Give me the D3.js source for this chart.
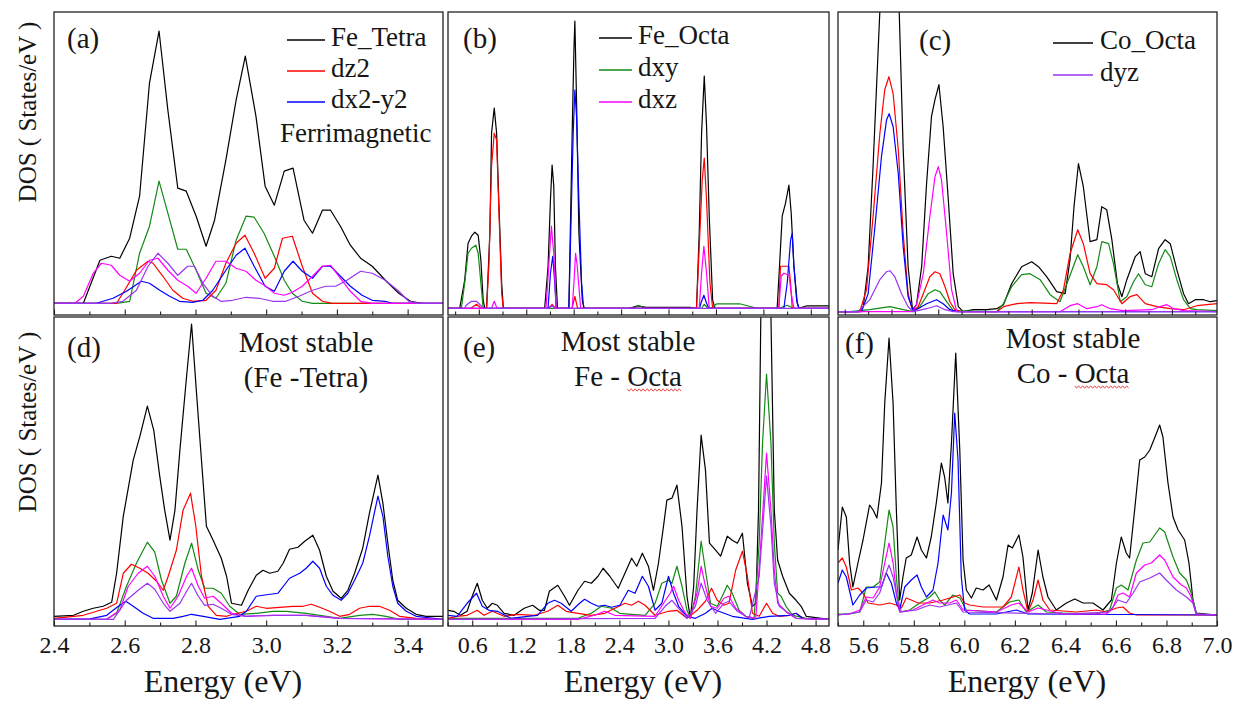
<!DOCTYPE html>
<html>
<head>
<meta charset="utf-8">
<script src="https://cdn.jsdelivr.net/npm/d3@7/dist/d3.min.js"></script>
<style>
  body { margin: 0; background: #fff; }
  svg { display: block; }
  text { font-family: "Liberation Serif", "Times New Roman", serif; fill: #161616; }
</style>
</head>
<body>
<div id="chart"></div>
<script>
// ---- data: [energy (eV), DOS] ----

// (a) ferrimagnetic, Fe tetra
const aBlack = [[2.40,0],[2.483,0],[2.530,4.3],[2.562,4.7],[2.586,4.5],[2.614,6.5],[2.642,10.7],[2.670,22.0],[2.697,27.2],[2.722,19.3],[2.750,11.5],[2.774,11.2],[2.802,8.7],[2.830,5.7],[2.854,8.3],[2.886,14.3],[2.915,20.3],[2.941,24.7],[2.971,18.7],[2.997,11.7],[3.023,9.8],[3.051,13.2],[3.076,13.5],[3.107,8.3],[3.131,7.0],[3.159,9.3],[3.182,9.3],[3.210,7.7],[3.238,5.8],[3.267,4.5],[3.300,3.7],[3.337,2.3],[3.375,1.0],[3.408,0.2],[3.440,0]];
const aGreen = [[2.40,0],[2.577,0],[2.614,0.2],[2.642,5.0],[2.670,7.7],[2.697,12.2],[2.722,9.0],[2.750,5.4],[2.774,5.4],[2.802,3.3],[2.830,1.0],[2.858,0.5],[2.886,2.0],[2.915,6.3],[2.943,8.7],[2.966,8.6],[2.994,7.0],[3.023,4.7],[3.051,2.3],[3.074,1.0],[3.102,0.2],[3.131,0],[3.5,0]];
const aRed = [[2.40,0],[2.577,0],[2.600,1.3],[2.633,3.3],[2.666,4.2],[2.680,4.0],[2.708,2.7],[2.736,1.3],[2.764,0.5],[2.792,0.2],[2.830,0.3],[2.858,1.3],[2.886,4.0],[2.915,6.0],[2.940,6.8],[2.966,5.0],[2.997,2.5],[3.023,3.5],[3.046,6.5],[3.074,6.7],[3.102,3.7],[3.131,1.0],[3.159,0.2],[3.187,0],[3.5,0]];
const aBlue = [[2.40,0],[2.520,0],[2.567,0.5],[2.605,1.2],[2.647,2.2],[2.670,2.0],[2.699,1.3],[2.727,0.7],[2.755,0.2],[2.792,0.1],[2.821,0.3],[2.849,1.3],[2.886,3.3],[2.915,4.8],[2.940,5.5],[2.966,3.7],[2.997,1.7],[3.023,1.2],[3.051,3.2],[3.076,4.2],[3.102,3.2],[3.131,2.5],[3.159,3.7],[3.182,3.7],[3.210,2.7],[3.238,1.7],[3.271,0.8],[3.300,0.3],[3.337,0.2],[3.356,0],[3.5,0]];
const aMagenta = [[2.40,0],[2.459,0],[2.483,0.7],[2.511,3.0],[2.534,4.0],[2.562,3.8],[2.586,2.8],[2.614,2.2],[2.642,3.0],[2.670,4.3],[2.694,4.5],[2.722,3.3],[2.750,2.3],[2.778,1.7],[2.802,1.0],[2.830,2.5],[2.858,4.2],[2.886,4.2],[2.915,3.5],[2.943,3.2],[2.971,2.3],[2.999,1.7],[3.023,1.0],[3.051,0.8],[3.074,1.1],[3.102,1.7],[3.131,2.7],[3.159,3.7],[3.182,3.8],[3.210,2.5],[3.238,1.2],[3.267,0.2],[3.300,0],[3.5,0]];
const aPurple = [[2.40,0],[2.560,0],[2.595,0.2],[2.633,1.3],[2.666,3.7],[2.694,5.0],[2.722,4.0],[2.750,2.8],[2.778,3.7],[2.797,3.7],[2.821,2.0],[2.849,0.7],[2.872,0.2],[2.905,0.3],[2.943,0.6],[2.980,0.5],[3.018,0.2],[3.055,0.2],[3.093,0.7],[3.131,1.3],[3.168,1.7],[3.196,1.7],[3.224,2.2],[3.267,3.2],[3.300,3.0],[3.337,2.3],[3.375,1.2],[3.403,0.2],[3.431,0],[3.5,0]];

// (b) ferrimagnetic, Fe octa
const bBlack = [[0.21,0],[0.358,0],[0.421,2.8],[0.464,6.5],[0.507,7.2],[0.549,7.6],[0.592,7.3],[0.626,4.8],[0.655,0.8],[0.676,0],[0.698,0],[0.740,7.5],[0.761,17.5],[0.795,20.0],[0.825,17.5],[0.855,10.2],[0.889,2.5],[0.910,0],[1.433,0],[1.476,4.2],[1.506,10.8],[1.527,14.3],[1.548,12.2],[1.569,4.2],[1.595,0],[1.739,0],[1.781,17.5],[1.803,25.8],[1.815,28.7],[1.836,20.8],[1.866,7.5],[1.909,0.8],[1.934,0],[2.504,0],[2.61,0.25],[2.716,0.1],[2.886,0.1],[3.269,0.1],[3.354,0],[3.388,7.5],[3.418,17.5],[3.452,23.2],[3.481,18.2],[3.515,9.2],[3.558,0.8],[3.588,0],[4.374,0],[4.408,4.8],[4.438,9.2],[4.480,10.5],[4.523,12.3],[4.552,9.5],[4.586,4.2],[4.629,0.5],[4.650,0],[4.75,0.25],[5.03,0.25]];
const bGreen = [[0.21,0],[0.379,0],[0.421,2.5],[0.464,5.5],[0.507,6.0],[0.562,6.3],[0.592,5.5],[0.626,2.5],[0.655,0],[2.55,0],[2.63,0.25],[2.70,0],[3.42,0],[3.45,0.4],[3.50,0],[3.56,0.1],[3.61,0.45],[3.90,0.45],[4.12,0],[4.40,0],[4.50,0.3],[4.58,0],[5.03,0]];
const bRed = [[0.21,0],[0.50,0],[0.57,0.4],[0.63,0],[0.698,0],[0.727,4.2],[0.761,14.2],[0.795,17.5],[0.825,16.8],[0.855,9.5],[0.889,1.5],[0.910,0],[1.48,0],[1.527,0.4],[1.57,0],[1.78,0],[1.815,1.2],[1.85,0],[3.354,0],[3.396,7.5],[3.426,12.8],[3.452,15.0],[3.481,10.8],[3.524,2.5],[3.558,0],[4.395,0],[4.416,4.2],[4.450,4.2],[4.523,4.2],[4.544,2.5],[4.565,0],[5.03,0]];
const bBlue = [[0.21,0],[1.476,0],[1.506,3.5],[1.535,5.2],[1.561,2.5],[1.578,0],[1.739,0],[1.773,10.8],[1.794,17.5],[1.815,21.8],[1.836,19.2],[1.866,10.8],[1.900,2.5],[1.926,0],[3.39,0],[3.418,0.7],[3.447,1.3],[3.481,0.5],[3.51,0],[4.459,0],[4.501,2.5],[4.544,6.8],[4.565,7.5],[4.586,4.2],[4.620,0.8],[4.650,0],[5.03,0]];
const bMagenta = [[0.21,0],[0.76,0],[0.795,0.7],[0.83,0],[1.450,0],[1.484,4.2],[1.518,8.2],[1.548,5.5],[1.578,0],[1.781,0],[1.803,2.5],[1.824,5.5],[1.845,4.2],[1.888,0],[3.388,0],[3.418,3.5],[3.447,6.2],[3.481,3.5],[3.515,0],[4.395,0],[4.425,3.2],[4.459,3.5],[4.523,3.3],[4.552,1.5],[4.586,0],[5.03,0]];
const bPurple = [[0.21,0],[0.421,0],[0.44,0.3],[0.507,0.7],[0.570,0.7],[0.634,0.2],[0.66,0],[1.49,0],[1.527,0.3],[1.56,0],[5.03,0]];

// (c) ferrimagnetic, Co octa
const cBlack = [[5.371,0],[5.457,0],[5.479,0.5],[5.500,4.5],[5.521,14.5],[5.550,30],[5.591,38],[5.633,30],[5.650,16.2],[5.671,4.5],[5.690,0.2],[5.707,0.7],[5.729,4.5],[5.750,12.8],[5.771,19.5],[5.786,21.2],[5.803,22.7],[5.821,18.5],[5.843,11.2],[5.864,3.8],[5.886,0.5],[5.907,0],[5.950,0.2],[6.007,0.2],[6.050,0.3],[6.079,0.7],[6.114,2.8],[6.157,4.5],[6.200,5.0],[6.229,4.5],[6.264,3.5],[6.307,2.0],[6.343,1.8],[6.364,5.2],[6.381,10.5],[6.400,14.8],[6.421,12.5],[6.450,7.0],[6.479,7.2],[6.500,10.5],[6.521,10.2],[6.543,7.2],[6.567,2.8],[6.586,1.5],[6.607,3.2],[6.643,5.5],[6.664,6.0],[6.686,3.8],[6.714,3.5],[6.743,6.3],[6.771,7.2],[6.793,6.8],[6.821,4.2],[6.850,1.8],[6.871,0.8],[6.900,1.2],[6.936,1.2],[6.964,1.0],[6.993,1.1]];
const cGreen = [[5.371,0],[5.421,0],[5.507,0.2],[5.593,0.5],[5.650,0.2],[5.693,0],[5.721,0.5],[5.757,1.8],[5.786,2.2],[5.807,2.0],[5.836,1.0],[5.864,0.1],[6.050,0],[6.079,0.8],[6.114,2.5],[6.157,3.7],[6.193,3.8],[6.236,3.2],[6.279,1.7],[6.321,1.0],[6.357,3.2],[6.397,5.7],[6.421,4.5],[6.450,2.7],[6.479,4.5],[6.500,7.0],[6.529,6.8],[6.550,4.8],[6.579,1.0],[6.607,1.5],[6.636,3.0],[6.657,3.8],[6.686,2.7],[6.714,2.5],[6.743,4.8],[6.771,6.2],[6.793,5.5],[6.821,3.2],[6.850,1.2],[6.879,0.3],[6.907,0.2],[6.993,0.1]];
const cRed = [[5.371,0],[5.464,0],[5.493,2.2],[5.521,9.5],[5.550,17.8],[5.571,22.2],[5.589,23.5],[5.607,21.8],[5.629,16.2],[5.650,7.8],[5.671,1.8],[5.690,0.1],[5.714,0.5],[5.736,1.8],[5.764,3.5],[5.786,4.0],[5.807,3.8],[5.829,2.5],[5.850,1.0],[5.871,0.2],[5.9,0],[6.050,0],[6.079,0.5],[6.136,0.8],[6.193,0.9],[6.307,0.8],[6.336,2.2],[6.364,5.8],[6.397,8.2],[6.421,6.8],[6.450,3.8],[6.479,2.8],[6.521,2.7],[6.550,2.2],[6.586,0.8],[6.621,1.5],[6.650,1.7],[6.686,0.8],[6.736,0.5],[6.793,0.3],[6.850,0.2],[6.907,0.6],[6.993,0.8]];
const cBlue = [[5.371,0],[5.471,0],[5.500,1.8],[5.529,8.5],[5.557,15.5],[5.579,19.2],[5.590,19.8],[5.607,18.5],[5.629,13.8],[5.650,6.5],[5.671,1.5],[5.693,0.1],[5.714,0.3],[5.750,0.8],[5.793,1.2],[5.821,0.8],[5.850,0.2],[5.879,0],[6.993,0]];
const cMagenta = [[5.371,0],[5.690,0],[5.707,0.7],[5.736,3.8],[5.764,9.5],[5.786,13.5],[5.800,14.5],[5.814,13.2],[5.836,7.8],[5.857,2.2],[5.879,0],[6.321,0],[6.364,0.6],[6.397,0.8],[6.436,0.3],[6.479,0.5],[6.500,0.7],[6.536,0.3],[6.593,0.1],[6.714,0.2],[6.750,0.5],[6.779,0.7],[6.807,0.3],[6.850,0.1],[6.993,0]];
const cPurple = [[5.371,0],[5.457,0],[5.507,1.2],[5.550,3.2],[5.579,4.0],[5.593,4.1],[5.614,3.5],[5.643,1.8],[5.671,0.5],[5.693,0],[5.750,0.3],[5.793,0.6],[5.829,0.2],[5.864,0],[6.993,0]];

// (d) most stable, Fe tetra
const dBlack = [[2.400,0.3],[2.455,0.4],[2.483,0.8],[2.511,1.1],[2.539,1.3],[2.563,1.7],[2.577,4.6],[2.596,10.3],[2.624,15.9],[2.643,18.3],[2.664,21.3],[2.682,18.9],[2.699,14.3],[2.713,10.9],[2.728,7.9],[2.742,10.9],[2.756,16.9],[2.775,24.3],[2.789,29.5],[2.803,22.6],[2.817,15.9],[2.831,9.3],[2.850,7.9],[2.873,6.1],[2.888,4.3],[2.902,1.6],[2.916,1.5],[2.930,1.4],[2.949,2.9],[2.972,4.4],[2.991,4.9],[3.010,4.6],[3.033,4.8],[3.048,5.6],[3.066,7.0],[3.090,7.2],[3.109,7.8],[3.132,8.4],[3.151,6.9],[3.170,4.3],[3.189,2.8],[3.212,2.1],[3.231,2.9],[3.250,4.6],[3.273,7.1],[3.292,10.6],[3.316,14.4],[3.330,11.6],[3.344,7.6],[3.358,3.9],[3.372,1.9],[3.396,1.1],[3.424,0.5],[3.452,0.3],[3.501,0.3]];
const dGreen = [[2.400,0],[2.549,0],[2.577,0.6],[2.605,3.3],[2.633,5.6],[2.664,7.7],[2.685,6.7],[2.704,3.9],[2.728,1.6],[2.746,2.3],[2.770,5.6],[2.789,7.6],[2.808,4.9],[2.826,3.1],[2.850,3.1],[2.873,2.6],[2.897,1.3],[2.925,0.5],[2.972,0.6],[3.019,0.8],[3.057,0.8],[3.113,0.6],[3.151,0.4],[3.208,0.1],[3.264,0.4],[3.302,0.5],[3.339,0.3],[3.377,0],[3.501,0]];
const dRed = [[2.400,0.1],[2.483,0.4],[2.549,1.1],[2.577,1.6],[2.596,4.6],[2.619,5.5],[2.643,5.1],[2.666,4.6],[2.690,3.8],[2.709,2.9],[2.723,4.3],[2.746,6.9],[2.765,10.9],[2.786,12.6],[2.801,9.3],[2.817,4.3],[2.836,1.3],[2.859,0.4],[2.888,0.3],[2.906,0.5],[2.944,0.8],[2.972,1.3],[3.000,1.1],[3.038,1.2],[3.076,1.3],[3.104,1.3],[3.128,1.5],[3.151,1.2],[3.179,0.8],[3.208,0.3],[3.236,0.5],[3.264,1.1],[3.292,1.3],[3.320,1.3],[3.349,0.9],[3.377,0.3],[3.424,0.1],[3.501,0]];
const dBlue = [[2.400,0],[2.502,0.05],[2.549,0.4],[2.582,1.3],[2.603,1.8],[2.624,1.3],[2.652,0.6],[2.680,0.1],[2.737,0.1],[2.765,0.3],[2.789,0.5],[2.822,0.3],[2.869,0],[2.925,0.3],[2.944,0.8],[2.972,2.3],[2.991,2.4],[3.033,2.6],[3.066,4.1],[3.095,4.6],[3.113,5.1],[3.132,5.8],[3.151,5.1],[3.170,3.3],[3.189,2.4],[3.212,1.9],[3.231,2.6],[3.250,3.9],[3.273,5.6],[3.292,8.3],[3.316,12.3],[3.330,10.3],[3.344,6.3],[3.358,3.3],[3.372,1.6],[3.396,0.8],[3.424,0.3],[3.501,0]];
const dMagenta = [[2.400,0],[2.549,0],[2.586,0.9],[2.610,3.3],[2.638,4.6],[2.664,5.3],[2.685,4.3],[2.709,2.3],[2.728,1.1],[2.751,2.3],[2.775,4.3],[2.789,5.1],[2.808,3.3],[2.826,2.1],[2.850,2.3],[2.873,1.6],[2.902,0.6],[2.944,0.3],[3.019,0.4],[3.113,0.4],[3.208,0.1],[3.501,0]];
const dPurple = [[2.400,0],[2.568,0],[2.605,1.9],[2.638,2.9],[2.664,3.6],[2.685,3.0],[2.709,1.6],[2.728,0.8],[2.756,1.6],[2.775,2.8],[2.789,3.6],[2.808,2.3],[2.826,1.4],[2.850,1.5],[2.873,1.1],[2.902,0.5],[2.944,0.3],[3.019,0.4],[3.113,0.4],[3.208,0.1],[3.501,0]];

// (e) most stable, Fe octa
const eBlack = [[0.304,0.9],[0.374,0.8],[0.456,0.4],[0.538,0.8],[0.600,2.3],[0.662,3.6],[0.723,1.9],[0.785,1.1],[0.846,1.6],[0.908,1.4],[0.990,0.6],[1.113,0.4],[1.236,1.1],[1.339,1.4],[1.421,0.9],[1.483,0.9],[1.544,2.8],[1.647,3.4],[1.729,2.3],[1.790,1.4],[1.893,2.9],[1.975,3.8],[2.057,3.6],[2.139,4.3],[2.201,5.1],[2.283,4.3],[2.386,3.1],[2.468,4.6],[2.550,6.1],[2.612,5.3],[2.681,6.6],[2.755,5.3],[2.817,2.9],[2.878,5.6],[2.940,9.3],[2.981,11.9],[3.043,12.1],[3.104,13.4],[3.166,9.3],[3.227,2.3],[3.268,0.1],[3.309,3.3],[3.350,10.9],[3.400,18.4],[3.453,14.9],[3.502,7.6],[3.556,7.1],[3.638,6.3],[3.720,8.3],[3.781,7.9],[3.843,7.6],[3.905,8.6],[3.966,3.6],[4.028,1.3],[4.069,1.6],[4.102,10.9],[4.130,30.2],[4.192,42],[4.254,30.2],[4.295,10.9],[4.336,5.9],[4.397,4.3],[4.479,2.6],[4.561,1.9],[4.623,1.3],[4.685,0.3],[4.964,0]];
const eGreen = [[0.304,0.1],[1.893,0.1],[2.057,0.6],[2.180,1.3],[2.304,1.1],[2.406,0.6],[2.550,0.5],[2.714,0.4],[2.837,1.6],[2.919,3.6],[3.001,3.9],[3.043,3.6],[3.104,5.3],[3.166,3.3],[3.227,0.9],[3.268,0.1],[3.330,2.3],[3.400,7.8],[3.453,4.9],[3.515,1.6],[3.597,1.3],[3.658,2.3],[3.720,3.4],[3.781,2.6],[3.864,0.9],[3.946,0.3],[4.048,0.1],[4.110,7.6],[4.151,17.6],[4.200,24.5],[4.254,17.6],[4.295,7.6],[4.336,2.6],[4.377,2.3],[4.438,1.3],[4.520,0.4],[4.685,0.1],[4.964,0]];
const eRed = [[0.304,0.1],[0.415,0.3],[0.538,0.4],[0.662,0.9],[0.744,0.4],[0.846,0.8],[0.990,0.3],[1.154,0.5],[1.359,0.4],[1.524,0.8],[1.647,1.4],[1.749,0.8],[1.893,0.6],[2.057,0.4],[2.221,0.6],[2.345,1.1],[2.468,1.6],[2.550,1.4],[2.632,1.8],[2.714,1.4],[2.837,0.4],[3.001,0.8],[3.104,0.9],[3.227,0.1],[3.350,0.9],[3.453,1.8],[3.527,3.1],[3.597,1.9],[3.679,1.4],[3.740,1.6],[3.822,4.9],[3.905,6.8],[3.966,4.3],[4.028,0.6],[4.110,0.3],[4.200,1.6],[4.274,0.6],[4.356,0.3],[4.479,0.4],[4.561,0.6],[4.643,0.1],[4.964,0]];
const eBlue = [[0.304,0.4],[0.415,0.3],[0.538,1.6],[0.653,2.6],[0.723,1.3],[0.805,0.9],[0.908,0.8],[1.072,0.1],[1.277,0.3],[1.400,0.4],[1.524,1.6],[1.606,1.9],[1.688,1.6],[1.811,0.8],[1.914,1.6],[1.975,2.0],[2.057,1.6],[2.139,1.3],[2.221,1.4],[2.304,1.2],[2.406,1.4],[2.509,2.9],[2.591,2.6],[2.681,4.3],[2.755,3.3],[2.837,0.9],[2.919,1.6],[3.001,4.3],[3.063,2.6],[3.125,1.3],[3.227,0.3],[3.330,0.1],[3.453,0.6],[3.535,1.1],[3.617,0.8],[3.781,0.3],[4.028,0],[4.233,0.3],[4.479,0.4],[4.561,0.6],[4.643,0.1],[4.964,0]];
const eMagenta = [[0.304,0],[1.893,0],[2.098,0.4],[2.221,0.8],[2.345,0.4],[2.837,0.3],[2.940,1.6],[3.022,2.6],[3.063,3.3],[3.125,1.9],[3.207,0.6],[3.268,0.1],[3.350,2.6],[3.400,5.3],[3.453,3.3],[3.515,1.3],[3.597,1.1],[3.679,2.1],[3.740,2.3],[3.822,1.1],[3.946,0.3],[4.069,0.1],[4.130,7.6],[4.200,16.6],[4.254,10.9],[4.295,4.9],[4.336,1.6],[4.397,1.1],[4.459,0.6],[4.561,0.1],[4.964,0]];
const ePurple = [[0.304,0],[2.837,0.1],[2.960,1.3],[3.043,1.9],[3.125,1.1],[3.227,0.1],[3.330,1.3],[3.400,3.6],[3.474,1.9],[3.576,0.6],[3.679,1.6],[3.740,1.8],[3.843,0.8],[3.987,0.1],[4.110,4.3],[4.200,14.3],[4.254,9.3],[4.295,3.6],[4.356,1.3],[4.438,0.8],[4.561,0.1],[4.964,0]];

// (f) most stable, Co octa
const fBlack = [[5.500,6.5],[5.517,10.8],[5.533,9.8],[5.546,5.2],[5.559,2.8],[5.579,5.2],[5.599,7.5],[5.625,11.0],[5.639,10.5],[5.654,9.7],[5.672,13.2],[5.685,21.2],[5.702,27.7],[5.718,21.2],[5.731,10.5],[5.744,1.5],[5.757,3.8],[5.770,5.7],[5.790,6.0],[5.813,7.8],[5.830,6.5],[5.850,5.7],[5.869,7.8],[5.889,11.2],[5.909,15.2],[5.922,13.8],[5.935,11.2],[5.949,17.2],[5.966,26.2],[5.982,16.5],[5.995,5.5],[6.008,2.5],[6.028,1.7],[6.047,2.7],[6.074,2.5],[6.098,3.0],[6.127,1.5],[6.153,3.8],[6.173,7.0],[6.190,6.7],[6.216,8.0],[6.232,5.8],[6.252,0.5],[6.269,2.2],[6.292,6.5],[6.311,3.8],[6.331,1.8],[6.364,0.5],[6.404,1.2],[6.437,1.6],[6.470,1.2],[6.509,1.2],[6.549,0.5],[6.582,1.5],[6.602,5.2],[6.621,7.8],[6.641,6.2],[6.654,5.7],[6.674,10.5],[6.694,15.5],[6.714,15.8],[6.734,16.5],[6.753,17.7],[6.773,19.0],[6.786,17.8],[6.806,13.2],[6.826,9.8],[6.846,8.5],[6.872,7.5],[6.889,5.2],[6.905,1.5],[6.918,0.2],[7.000,0]];
const fGreen = [[5.500,0.1],[5.546,0.1],[5.586,0.3],[5.612,2.8],[5.639,2.8],[5.665,3.3],[5.685,7.2],[5.702,10.5],[5.718,8.8],[5.731,3.8],[5.744,0.3],[5.784,0.5],[5.823,1.2],[5.863,1.8],[5.883,2.3],[5.902,1.5],[5.922,1.0],[5.955,2.0],[5.982,1.7],[6.008,0.5],[6.127,0.3],[6.179,1.3],[6.216,1.5],[6.245,0.3],[6.292,1.0],[6.325,0.3],[6.391,0.2],[6.522,0.1],[6.575,0.5],[6.602,2.7],[6.621,3.0],[6.648,2.5],[6.681,5.5],[6.707,7.2],[6.734,7.3],[6.773,8.7],[6.793,8.3],[6.826,5.8],[6.852,4.2],[6.879,3.5],[6.898,2.2],[6.918,0.1],[7.000,0]];
const fRed = [[5.500,5.2],[5.517,5.7],[5.533,4.8],[5.553,2.5],[5.579,2.7],[5.599,2.2],[5.619,1.2],[5.665,1.0],[5.704,1.2],[5.731,1.0],[5.751,0.7],[5.770,1.7],[5.790,1.5],[5.817,1.2],[5.863,1.2],[5.916,1.5],[5.955,1.8],[5.982,2.0],[6.001,1.2],[6.021,1.0],[6.074,0.8],[6.153,0.8],[6.186,1.8],[6.216,4.8],[6.232,2.5],[6.252,0.3],[6.272,1.5],[6.292,3.5],[6.311,1.5],[6.338,0.5],[6.443,0.3],[6.522,0.5],[6.562,0.3],[6.602,0.7],[6.628,0.8],[6.654,0.2],[6.681,0],[7.000,0]];
const fBlue = [[5.500,3.2],[5.517,4.5],[5.533,3.8],[5.559,1.0],[5.586,2.0],[5.612,2.7],[5.652,2.8],[5.672,2.8],[5.691,4.2],[5.711,3.2],[5.731,1.2],[5.744,0.5],[5.764,2.8],[5.790,3.5],[5.813,4.0],[5.830,2.8],[5.850,1.8],[5.876,2.5],[5.896,5.2],[5.916,10.0],[5.935,8.5],[5.949,12.2],[5.962,20.2],[5.975,15.5],[5.988,3.8],[6.001,0.5],[6.021,0.1],[6.127,0.1],[6.206,0.5],[6.252,0.1],[7.000,0]];
const fMagenta = [[5.500,0],[5.546,0.1],[5.586,0.5],[5.612,1.8],[5.639,1.7],[5.665,2.8],[5.685,5.2],[5.702,7.2],[5.718,5.2],[5.731,2.2],[5.744,0.3],[5.797,0.5],[5.836,1.0],[5.876,1.5],[5.902,1.2],[5.942,1.2],[5.969,1.5],[5.995,0.5],[6.127,0.3],[6.186,1.0],[6.216,1.2],[6.252,0.3],[6.292,0.7],[6.391,0.1],[6.562,0.1],[6.589,0.8],[6.608,2.0],[6.628,2.2],[6.654,1.8],[6.681,4.2],[6.714,5.0],[6.740,5.2],[6.773,6.0],[6.793,5.5],[6.826,3.8],[6.859,3.0],[6.879,2.7],[6.898,1.8],[6.918,0.1],[7.000,0]];
const fPurple = [[5.500,0],[5.586,0.3],[5.612,1.5],[5.639,1.3],[5.665,2.2],[5.685,3.8],[5.702,5.0],[5.718,3.8],[5.738,1.2],[5.751,0.3],[5.810,0.5],[5.863,1.0],[5.902,0.8],[5.969,1.2],[5.995,0.3],[6.391,0.1],[6.575,0.3],[6.608,1.5],[6.641,1.2],[6.668,2.2],[6.694,3.3],[6.734,3.7],[6.773,4.2],[6.799,3.5],[6.839,2.5],[6.879,1.8],[6.905,1.2],[6.918,0.1],[7.000,0]];

// tick values
const majorAD = [2.4, 2.6, 2.8, 3.0, 3.2, 3.4];
const minorAD = [2.5, 2.7, 2.9, 3.1, 3.3];
const majorBE = [0.6, 1.2, 1.8, 2.4, 3.0, 3.6, 4.2, 4.8];
const minorBE = [0.3, 0.9, 1.5, 2.1, 2.7, 3.3, 3.9, 4.5];
const majorC = [5.4, 5.6, 5.8, 6.0, 6.2, 6.4, 6.6, 6.8];
const minorC = [5.5, 5.7, 5.9, 6.1, 6.3, 6.5, 6.7, 6.9];
const majorF = [5.6, 5.8, 6.0, 6.2, 6.4, 6.6, 6.8, 7.0];
const minorF = [5.5, 5.7, 5.9, 6.1, 6.3, 6.5, 6.7, 6.9];

// legends
const legendA = [["Fe_Tetra", "black"], ["dz2", "red"], ["dx2-y2", "blue"]];
const legendB = [["Fe_Octa", "black"], ["dxy", "green"], ["dxz", "magenta"]];
const legendC = [["Co_Octa", "black"], ["dyz", "purple"]];

const colors = {
    black: "#000000",
    green: "#138a13",
    red: "#ff0000",
    blue: "#0000ff",
    magenta: "#ff00ff",
    purple: "#9a33f2"
};

const serif = '"Liberation Serif", "Times New Roman", serif';
const width = 1237, height = 702;

const svg = d3.select("#chart").append("svg")
    .attr("width", width)
    .attr("height", height);

// panel layout: box = [left, top, right, bottom]
const panels = [
    { key: "a", box: [54, 12, 443, 315], xDomain: [2.4, 3.5], yDomain: [-1.17, 29.1],
      major: majorAD, minor: minorAD, labels: false,
      series: { black: aBlack, green: aGreen, red: aRed, blue: aBlue, magenta: aMagenta, purple: aPurple } },
    { key: "b", box: [448, 12, 829, 315], xDomain: [0.21, 5.03], yDomain: [-0.67, 29.6],
      major: majorBE, minor: minorBE, labels: false,
      series: { black: bBlack, green: bGreen, red: bRed, blue: bBlue, magenta: bMagenta, purple: bPurple } },
    { key: "c", box: [838, 12, 1217, 315], xDomain: [5.371, 6.993], yDomain: [-0.33, 29.97],
      major: majorC, minor: minorC, labels: false,
      series: { black: cBlack, green: cGreen, red: cRed, blue: cBlue, magenta: cMagenta, purple: cPurple } },
    { key: "d", box: [54, 317, 443, 626], xDomain: [2.4, 3.5], yDomain: [-0.67, 30.2],
      major: majorAD, minor: minorAD, labels: true,
      series: { black: dBlack, green: dGreen, red: dRed, blue: dBlue, magenta: dMagenta, purple: dPurple } },
    { key: "e", box: [448, 317, 829, 626], xDomain: [0.304, 4.964], yDomain: [-0.67, 30.2],
      major: majorBE, minor: minorBE, labels: true,
      series: { black: eBlack, green: eGreen, red: eRed, blue: eBlue, magenta: eMagenta, purple: ePurple } },
    { key: "f", box: [838, 317, 1217, 626], xDomain: [5.5, 7.0], yDomain: [-1.1, 29.8],
      major: majorF, minor: minorF, labels: true,
      series: { black: fBlack, green: fGreen, red: fRed, blue: fBlue, magenta: fMagenta, purple: fPurple } }
];

const drawOrder = ["black", "green", "red", "blue", "magenta", "purple"];

panels.forEach(p => {
    const [x0, y0, x1, y1] = p.box;
    const x = d3.scaleLinear().domain(p.xDomain).range([x0, x1]);
    const y = d3.scaleLinear().domain(p.yDomain).range([y1, y0]);

    const g = svg.append("g").attr("class", "panel-" + p.key);

    g.append("clipPath").attr("id", "clip-" + p.key)
        .append("rect")
        .attr("x", x0).attr("y", y0)
        .attr("width", x1 - x0).attr("height", y1 - y0);

    const line = d3.line()
        .x(d => x(d[0]))
        .y(d => y(d[1]));

    const lines = g.append("g").attr("clip-path", `url(#clip-${p.key})`);
    drawOrder.forEach(name => {
        lines.append("path")
            .datum(p.series[name])
            .attr("fill", "none")
            .attr("stroke", colors[name])
            .attr("stroke-width", 1.2)
            .attr("stroke-linejoin", "round")
            .attr("d", line);
    });

    // inward ticks on the bottom edge
    const minorAxis = d3.axisBottom(x).tickValues(p.minor).tickSize(-3.5).tickFormat("");
    const majorAxis = d3.axisBottom(x).tickValues(p.major).tickSize(-5.5).tickPadding(10)
        .tickFormat(p.labels ? d3.format(".1f") : "");

    [minorAxis, majorAxis].forEach(ax => {
        const a = g.append("g")
            .attr("transform", `translate(0,${y1})`)
            .call(ax)
            .attr("font-family", serif)
            .attr("font-size", 24);
        a.select(".domain").remove();
        a.selectAll(".tick line").attr("stroke", "#222").attr("stroke-width", 1.1);
        a.selectAll(".tick text").attr("fill", "#161616");
    });

    g.append("rect")
        .attr("x", x0).attr("y", y0)
        .attr("width", x1 - x0).attr("height", y1 - y0)
        .attr("fill", "none")
        .attr("stroke", "#222")
        .attr("stroke-width", 1.3);
});

// panel letters
const letterPos = { a: [67, 48], b: [463, 48], c: [919, 50], d: [67, 357], e: [463, 357], f: [845, 353] };
panels.forEach(p => {
    svg.append("text")
        .attr("x", letterPos[p.key][0])
        .attr("y", letterPos[p.key][1])
        .style("font-size", "29px")
        .text(`(${p.key})`);
});

// legends
function legend(items, lx, ly, step, textX) {
    items.forEach(([label, c], i) => {
        const yy = ly + i * step;
        svg.append("line")
            .attr("x1", lx[0]).attr("x2", lx[1])
            .attr("y1", yy).attr("y2", yy)
            .attr("stroke", colors[c]).attr("stroke-width", 1.3);
        svg.append("text")
            .attr("x", textX).attr("y", yy + 6)
            .style("font-size", "27px")
            .text(label);
    });
}
legend(legendA, [287, 325], 40, 31, 331);
legend(legendB, [599, 632], 38, 32, 638);
legend(legendC, [1053, 1093], 43, 32, 1100);

svg.append("text").attr("x", 280).attr("y", 142).style("font-size", "27px").text("Ferrimagnetic");

// annotations in the lower panels
function note(cx, lines, top) {
    lines.forEach((t, i) => {
        svg.append("text")
            .attr("x", cx).attr("y", top + i * 35)
            .attr("text-anchor", "middle")
            .style("font-size", "29px")
            .text(t);
    });
}
note(306, ["Most stable", "(Fe -Tetra)"], 352);
note(628, ["Most stable", "Fe - Octa"], 351);
note(1073, ["Most stable", "Co - Octa"], 348);

// red spell-check squiggle under "Octa"
function squiggle(x0, x1, yy) {
    const pts = d3.range(x0, x1 + 0.1, 2).map((v, i) => [v, yy + (i % 2 ? 1.2 : -1.2)]);
    svg.append("path")
        .attr("d", d3.line()(pts))
        .attr("fill", "none")
        .attr("stroke", "#e02020")
        .attr("stroke-width", 0.8);
}

// axis titles
[112, 422].forEach(cy => {
    svg.append("text")
        .attr("transform", `translate(36,${cy}) rotate(-90)`)
        .attr("text-anchor", "middle")
        .style("font-size", "25px")
        .text("DOS ( States/eV )");
});
[223, 643, 1027].forEach(cx => {
    svg.append("text")
        .attr("x", cx).attr("y", 692)
        .attr("text-anchor", "middle")
        .style("font-size", "32px")
        .text("Energy (eV)");
});

svg.selectAll("text").style("font-family", serif);

svg.selectAll("text").each(function () {
    const t = d3.select(this).text();
    if (t.endsWith("- Octa")) {
        const i0 = t.indexOf("Octa");
        const s = this.getStartPositionOfChar(i0).x;
        const e = this.getEndPositionOfChar(t.length - 1).x;
        squiggle(s, e, +d3.select(this).attr("y") + 4);
    }
});
</script>
</body>
</html>
